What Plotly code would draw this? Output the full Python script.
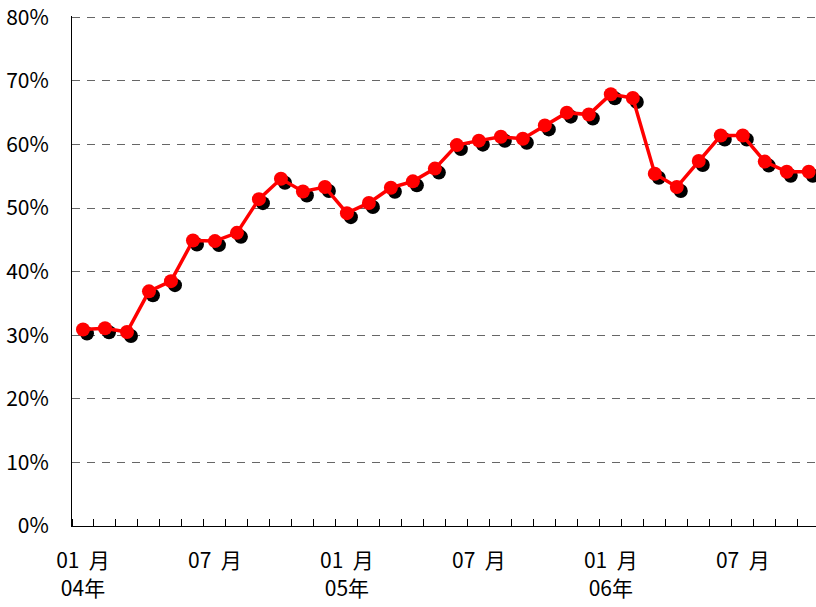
import plotly.graph_objects as go

# monthly share, Jan 2004 - Oct 2006
months = list(range(34))
share = [30.9, 31.1, 30.5, 36.9, 38.5, 44.9, 44.8, 46.1, 51.4, 54.6,
         52.6, 53.3, 49.2, 50.8, 53.2, 54.2, 56.2, 59.9, 60.6, 61.2,
         60.9, 63.0, 65.0, 64.7, 67.9, 67.3, 55.4, 53.3, 57.4, 61.4,
         61.4, 57.3, 55.7, 55.7]
tick_pos = [0, 6, 12, 18, 24, 30]
tick_text = ["01\u00a0\u00a0月<br>04年", "07\u00a0\u00a0月", "01\u00a0\u00a0月<br>05年",
             "07\u00a0\u00a0月", "01\u00a0\u00a0月<br>06年", "07\u00a0\u00a0月"]
y_ticks = [0, 10, 20, 30, 40, 50, 60, 70, 80]
y_text = ["0%", "10%", "20%", "30%", "40%", "50%", "60%", "70%", "80%"]

FONT = "Noto Sans CJK JP, Noto Sans, sans-serif"
x_lo, x_hi = -0.5, 33.33
y_lo, y_hi = 0, 80.2   # a hair above 80 so the top gridline shows
# shadow offset in pixels, converted to axis units
px_x = (x_hi - x_lo) / 744
px_y = (y_hi - y_lo) / 510
sh = 4

fig = go.Figure()

# black drop shadow of the markers (shifted axes underneath)
fig.add_trace(go.Scatter(
    x=months, y=share, mode="markers",
    marker=dict(size=14, color="black"),
    xaxis="x", yaxis="y", showlegend=False, hoverinfo="skip"
))

# red series on top
fig.add_trace(go.Scatter(
    x=months, y=share, mode="lines+markers",
    line=dict(color="#FF0000", width=3.5),
    marker=dict(size=14, color="#FF0000"),
    xaxis="x2", yaxis="y2", showlegend=False
))

fig.update_layout(
    width=816, height=607,
    margin=dict(l=72, r=0, t=16, b=81),
    paper_bgcolor="white",
    plot_bgcolor="white",
    font=dict(family=FONT, size=21, color="black"),
    xaxis=dict(range=[x_lo - sh * px_x, x_hi - sh * px_x], visible=False,
               showgrid=False, zeroline=False),
    yaxis=dict(range=[y_lo + sh * px_y, y_hi + sh * px_y], visible=False,
               showgrid=False, zeroline=False),
    xaxis2=dict(
        overlaying="x", anchor="y2", side="bottom",
        range=[x_lo, x_hi],
        tickmode="array", tickvals=tick_pos, ticktext=tick_text,
        ticks="", ticklabelstandoff=16,
        showline=True, linecolor="black", linewidth=1,
        showgrid=False, zeroline=False,
        minor=dict(ticks="inside", ticklen=7, tickcolor="black",
                   tick0=-0.5, dtick=1, showgrid=False),
    ),
    yaxis2=dict(
        overlaying="y", anchor="x2", side="left",
        range=[y_lo, y_hi],
        tickmode="array", tickvals=y_ticks, ticktext=y_text,
        ticks="", ticklabelstandoff=18,
        showline=True, linecolor="black", linewidth=1,
        showgrid=True, gridcolor="#666666", gridwidth=1, griddash="8px,7px",
        zeroline=False,
    ),
)

fig.write_html("out.html", config={"displayModeBar": False},
               post_script="document.body.style.margin='0';")
